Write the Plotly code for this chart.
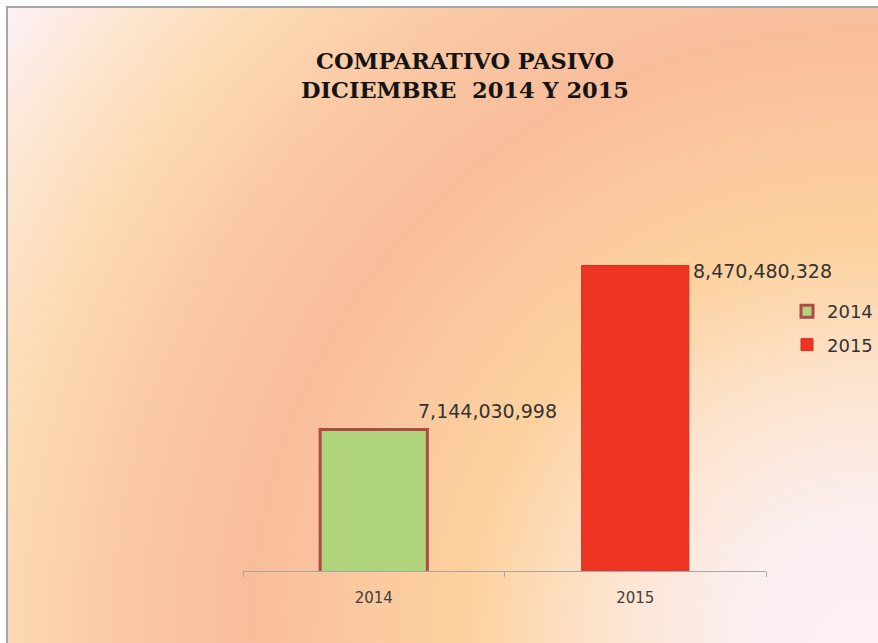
import base64
import plotly.graph_objects as go

# ---- data ----
categories = ["2014", "2015"]
values = [7144030998, 8470480328]
series_names = ["2014", "2015"]
title_lines = ["COMPARATIVO PASIVO", "DICIEMBRE\u00a0 2014 Y 2015"]

# ---- styles ----
W, H = 878, 643
L, R, T, B = 243, 112, 200, 72
PW, PH = W - L - R, H - T - B
fills = ["#afd47c", "#ee3524"]
borders = ["#b04a48", "#d62d1e"]
bwidths = [3, 1]
label_xshift = [42, 56]
label_yshift = [19, -6]

svg = f'''<svg xmlns="http://www.w3.org/2000/svg" width="{W}" height="{H}" viewBox="0 0 {W} {H}" preserveAspectRatio="none">
<defs><radialGradient id="g" gradientUnits="userSpaceOnUse" cx="860" cy="640" r="1050">
<stop offset="0" stop-color="#fcf0f4"/>
<stop offset="0.12" stop-color="#fbeeef"/>
<stop offset="0.25" stop-color="#fde3cc"/>
<stop offset="0.38" stop-color="#fdd19d"/>
<stop offset="0.47" stop-color="#fbc9a0"/>
<stop offset="0.58" stop-color="#f9bd9a"/>
<stop offset="0.7" stop-color="#fac8a3"/>
<stop offset="0.82" stop-color="#fcdab3"/>
<stop offset="0.92" stop-color="#fde6d2"/>
<stop offset="1" stop-color="#fdeff2"/>
</radialGradient></defs>
<rect x="0" y="0" width="{W}" height="{H}" fill="#ffffff"/>
<rect x="7" y="7" width="{W + 20}" height="{H + 20}" fill="url(#g)" stroke="#a6a6a6" stroke-width="2"/>
</svg>'''
src = "data:image/svg+xml;base64," + base64.b64encode(svg.encode()).decode()

fig = go.Figure()
for i, (cat, val, name) in enumerate(zip(categories, values, series_names)):
    fig.add_trace(go.Bar(
        x=[cat], y=[val], name=name, width=0.41, legendgroup=name,
        marker=dict(color=fills[i], line=dict(color=borders[i], width=bwidths[i])),
    ))
    fig.add_annotation(
        x=i, y=val, text=f"{val:,}", showarrow=False,
        xanchor="left", yanchor="middle",
        xshift=label_xshift[i], yshift=label_yshift[i],
        font=dict(family="DejaVu Sans", size=19, color="#333333"),
    )

fig.update_layout(
    width=W, height=H,
    margin=dict(l=L, r=R, t=T, b=B, pad=0, autoexpand=False),
    paper_bgcolor="white", plot_bgcolor="rgba(0,0,0,0)",
    barmode="overlay",
    title=dict(
        text="<br>".join(title_lines),
        x=465 / W, xanchor="center", xref="container",
        y=1 - 69 / H, yanchor="top", yref="container",
        font=dict(family="DejaVu Serif", size=22.5, color="#141414", weight="bold"),
    ),
    images=[dict(
        source=src, xref="paper", yref="paper",
        x=-L / PW, y=1 + T / PH, sizex=W / PW, sizey=H / PH,
        xanchor="left", yanchor="top", sizing="stretch", layer="below",
    )],
    xaxis=dict(
        type="category", categoryorder="array", categoryarray=categories,
        range=[-0.5, 1.5], fixedrange=True,
        showline=True, linecolor="#a6a6a6", linewidth=1,
        ticks="outside", tickson="boundaries", ticklen=5, tickcolor="#a6a6a6",
        showgrid=False, ticklabelstandoff=13,
        tickfont=dict(family="DejaVu Sans", size=15, color="#404040"),
    ),
    yaxis=dict(visible=False, range=[6e9, 9e9], fixedrange=True),
    legend=dict(
        x=(787 - L) / PW, y=1 - (293 - T) / PH, xanchor="left", yanchor="top",
        bgcolor="rgba(0,0,0,0)", tracegroupgap=7,
        font=dict(family="DejaVu Sans", size=18, color="#333333"),
        itemwidth=30,
    ),
    showlegend=True,
)

fig.write_html("out.html", config={"displayModeBar": False},
               post_script="document.body.style.margin='0px';")
